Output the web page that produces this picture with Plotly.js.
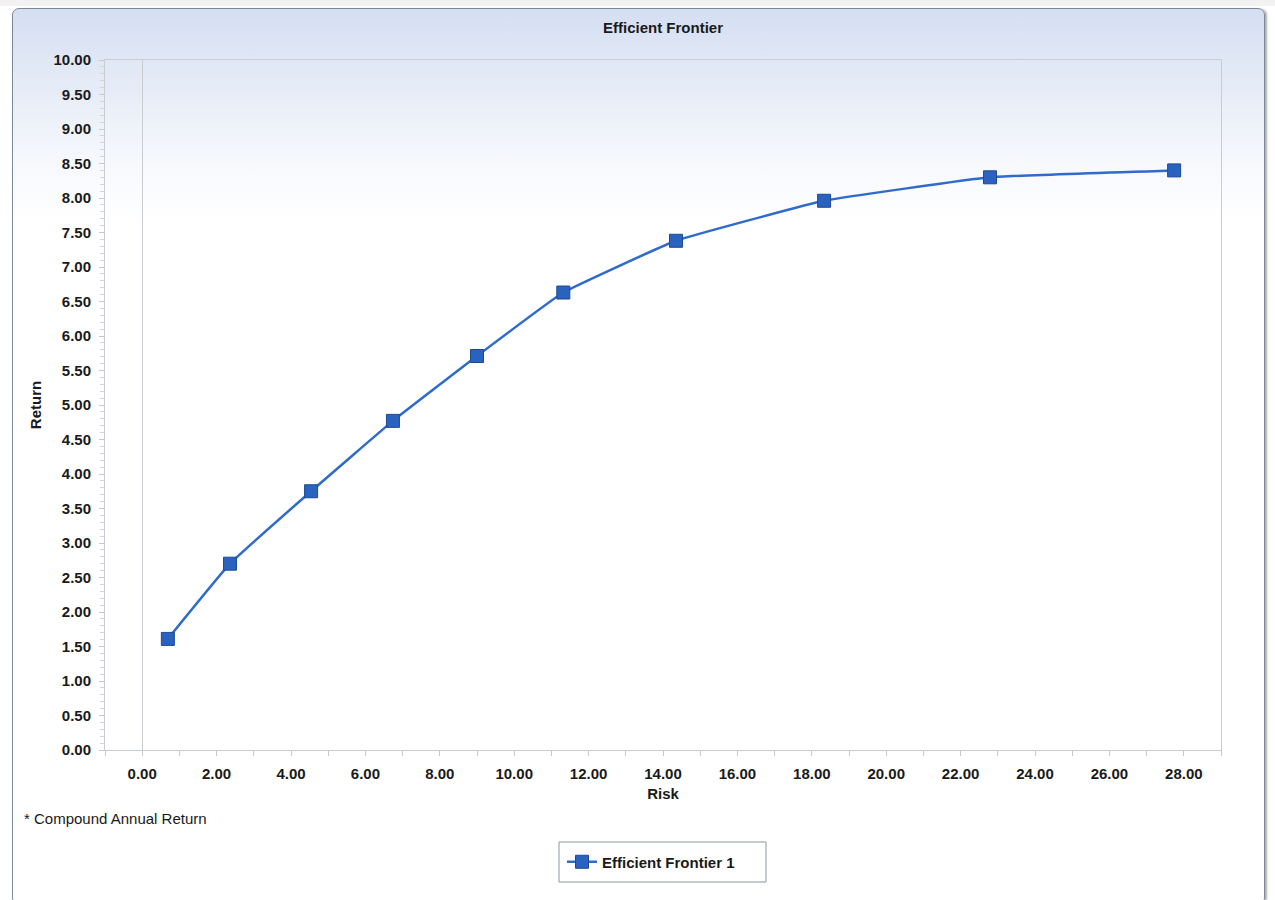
<!DOCTYPE html>
<html>
<head>
<meta charset="utf-8">
<script src="https://cdn.plot.ly/plotly-3.0.1.min.js"></script>
<style>
  html, body { margin: 0; padding: 0; background: #ffffff; }
  #wrap { position: relative; width: 1275px; height: 900px; overflow: hidden; }
  #topband { position: absolute; left: 0; top: 0; width: 1275px; height: 6px; background: #f2f2f2; }
  #frame {
    position: absolute; left: 12px; top: 8px; width: 1251px; height: 895px;
    border: 1px solid #7d8896; border-radius: 7px;
    background: linear-gradient(to bottom, #d5dff2 0%, #e6ecf7 9%, #f6f8fc 17%, #ffffff 24%, #ffffff 100%);
    box-shadow: 3px 0 2px -1px #b0b0b0;
  }
  #chart { position: absolute; left: 0; top: 0; width: 1275px; height: 900px; }
</style>
</head>
<body>
<div id="wrap">
  <div id="topband"></div>
  <div id="frame"></div>
  <div id="chart"></div>
</div>
<script>
// Efficient frontier: risk (x) versus compound annual return (y)
const seriesName = 'Efficient Frontier 1';
const risk   = [0.69, 2.36, 4.54, 6.74, 9.00, 11.32, 14.35, 18.33, 22.79, 27.74];
const ret    = [1.61, 2.70, 3.75, 4.77, 5.71, 6.63, 7.38, 7.96, 8.30, 8.40];

const font = 'Liberation Sans, Arial, sans-serif';
const ink = '#1a1a1a';

const trace = {
  type: 'scatter',
  mode: 'lines+markers',
  name: seriesName,
  x: risk,
  y: ret,
  line: { color: '#2f6bcc', width: 2.5, shape: 'spline', smoothing: 0.3 },
  marker: { symbol: 'square', size: 13, color: '#2a62bf', line: { color: '#1d4a94', width: 1 } },
  hoverinfo: 'x+y'
};

// pixel helpers relative to the plot area (105..1221 px across, 60..750 px down)
const plotL = 105, plotW = 1116, plotB = 750, plotH = 690;
const px = v => (v - plotL) / plotW;
const py = v => (plotB - v) / plotH;

const layout = {
  width: 1275,
  height: 900,
  paper_bgcolor: 'rgba(0,0,0,0)',
  plot_bgcolor: 'rgba(0,0,0,0)',
  margin: { l: 105, r: 54, t: 60, b: 150 },
  showlegend: true,
  title: {
    text: 'Efficient Frontier',
    font: { family: font, size: 15, color: ink, weight: 'bold' },
    x: 0.52, xanchor: 'center',
    yref: 'container', y: 1 - 28 / 900, yanchor: 'middle'
  },
  xaxis: {
    range: [-1, 29],
    dtick: 2,
    tick0: 0,
    tickformat: '.2f',
    ticks: 'outside',
    ticklen: 5,
    tickcolor: '#c6c9ce',
    ticklabelstandoff: 5,
    tickfont: { family: font, size: 15, color: ink, weight: 'bold' },
    minor: { dtick: 1, ticks: 'outside', ticklen: 5, tickcolor: '#c6c9ce', showgrid: false },
    showgrid: false,
    zeroline: true,
    zerolinecolor: '#c9ccd1',
    zerolinewidth: 1,
    showline: true,
    mirror: true,
    linecolor: '#c9ccd1',
    linewidth: 1,
    automargin: false,
    title: {
      text: 'Risk',
      font: { family: font, size: 15, color: ink, weight: 'bold' },
      standoff: 7
    }
  },
  yaxis: {
    range: [0, 10],
    dtick: 0.5,
    tick0: 0,
    tickformat: '.2f',
    ticks: 'outside',
    ticklen: 5,
    tickcolor: '#c6c9ce',
    ticklabelstandoff: 5,
    tickfont: { family: font, size: 15, color: ink, weight: 'bold' },
    minor: { dtick: 0.1, ticks: 'outside', ticklen: 4, tickcolor: '#d3d6da', showgrid: false },
    showgrid: false,
    zeroline: false,
    showline: true,
    mirror: true,
    linecolor: '#c9ccd1',
    linewidth: 1,
    automargin: false,
    title: {
      text: 'Return',
      font: { family: font, size: 15, color: ink, weight: 'bold' },
      standoff: 8
    }
  },
  legend: {
    orientation: 'h',
    x: px(651), xanchor: 'center',
    y: py(862), yanchor: 'middle',
    bgcolor: 'rgba(0,0,0,0)',
    borderwidth: 0,
    font: { family: font, size: 15, color: ink, weight: 'bold' },
    itemwidth: 30
  },
  shapes: [
    {
      // white legend box with a grey border
      type: 'rect', xref: 'paper', yref: 'paper', layer: 'above',
      x0: px(559), x1: px(766), y0: py(842), y1: py(882),
      fillcolor: '#ffffff',
      line: { color: '#8d96a3', width: 1 }
    }
  ],
  annotations: [
    {
      text: '* Compound Annual Return',
      xref: 'paper', yref: 'paper',
      x: px(22), y: py(818),
      xanchor: 'left', yanchor: 'middle',
      showarrow: false,
      font: { family: font, size: 15, color: ink }
    }
  ]
};

Plotly.newPlot('chart', [trace], layout, { displayModeBar: false, staticPlot: true });
</script>
</body>
</html>
